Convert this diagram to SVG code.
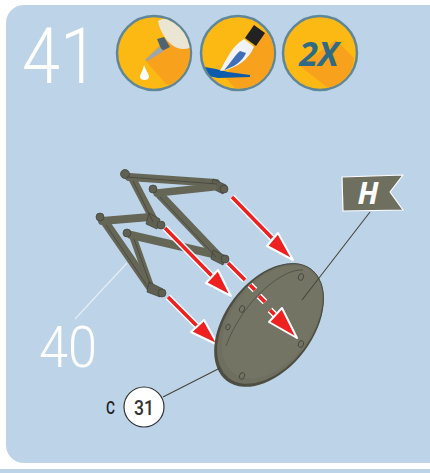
<svg xmlns="http://www.w3.org/2000/svg" width="430" height="473" viewBox="0 0 430 473">
<defs>
<style>
.ring{fill:#fdb913;stroke:#5f8797;stroke-width:2.5}
.shade{fill:#f7a11c}
.rod{stroke:#666657;stroke-linecap:round;fill:none}
.edge{stroke:#3f3f36;stroke-width:.7;fill:none}
.cap{fill:#5f5f52;stroke:#3f3f36;stroke-width:.7}
.big{fill:#fff;font-family:Roboto,"Open Sans",sans-serif;font-weight:300}
.hole{fill:none;stroke:#45453b;stroke-width:.9}
.shaft{stroke:#fff;stroke-width:6.5;fill:none;stroke-linecap:butt}
.shaftr{stroke:#ee2020;stroke-width:3.6;fill:none;stroke-linecap:butt}
.head{fill:#ee2020;stroke:#fff;stroke-width:2;stroke-linejoin:round}
.lbl{font-family:Roboto,"Open Sans",sans-serif;font-weight:500;text-anchor:middle}
</style>
<clipPath id="c1"><circle cx="154" cy="53" r="36"/></clipPath>
<clipPath id="c2"><circle cx="238" cy="53" r="36"/></clipPath>
<clipPath id="c3"><circle cx="320" cy="53" r="36"/></clipPath>
</defs>
<rect width="430" height="473" fill="#fff"/>
<rect x="0" y="469" width="430" height="4" fill="#bdd4e8"/>
<rect x="6" y="5" width="440" height="458" rx="18" fill="#bdd4e8"/>
<g id="step-number"><text class="big" x="22" y="83" font-size="78" textLength="76" lengthAdjust="spacingAndGlyphs">41</text></g>
<g id="icon-glue">
<circle class="ring" cx="154" cy="53" r="37"/>
<g clip-path="url(#c1)">
<path class="shade" d="M145 60L165 40L195 50L195 90L166 84Z"/>
<path d="M158 21C166 15 184 18 192 34L192 47C186 50 178 50 172 45C165 39 160 31 158 21Z" fill="#ebe6d4"/>
</g>
<path d="M157 39L164 37L170 47L162 51Z" fill="#4f6470"/>
<path d="M159 47L164 51L147 61L145 60Z" fill="#9aa7ad"/>
<path d="M144 65C146 71 149 74 149 77C149 81 140 81 140 77C140 74 143 71 144 65Z" fill="#fff"/>
</g>
<g id="icon-brush">
<circle class="ring" cx="238" cy="53" r="37"/>
<g clip-path="url(#c2)">
<path class="shade" d="M262 31L280 40L280 90L235 88L224 76L250 50Z"/>
<path d="M200 66L216 69L228 72L250 75L250 77L218 78L204 75Z" fill="#0d5bab"/>
</g>
<path d="M254 25L265 33L256 46L245 38Z" fill="#222"/>
<path d="M244 39L254 47C248 60 238 68 220 71C226 60 232 46 244 39Z" fill="#f0f4f8"/>
<path d="M240 51L246 53C242 62 234 67 224 70C230 64 234 56 240 51Z" fill="#3f6fb8"/>
</g>
<g id="icon-repeat">
<circle class="ring" cx="320" cy="53" r="37"/>
<g clip-path="url(#c3)"><path class="shade" d="M300 66L336 40L354 58L350 80L328 88Z"/></g>
<text x="319" y="66" font-size="34" font-weight="700" font-style="italic" text-anchor="middle" fill="#2f6b84" font-family="'Open Sans',sans-serif">2X</text>
</g>
<g id="part-40">
<path d="M127 263L75 319" stroke="#e6eef5" stroke-width="1.2" fill="none"/>
<path class="rod" stroke-width="8" d="M129 177L216 183"/>
<path class="rod" stroke-width="8" d="M132 178L155 222"/>
<circle class="cap" cx="125" cy="174" r="4.5"/>
<path class="cap" d="M213 179L226 185L223 194L211 188Z"/>
<circle class="cap" cx="224" cy="189" r="4"/>
<path class="rod" stroke-width="7.500" d="M157 193L213 187"/>
<path class="rod" stroke-width="8.500" d="M160 195L218 256"/>
<circle class="cap" cx="153" cy="189" r="4"/>
<path class="rod" stroke-width="8" d="M102 221L150 217"/>
<path class="cap" d="M149 213L160 219L157 229L146 224Z"/>
<circle class="cap" cx="161" cy="225" r="4"/>
<path class="rod" stroke-width="8" d="M131 235L213 254"/>
<path class="cap" d="M213 250L226 256L223 265L211 259Z"/>
<circle class="cap" cx="225" cy="259" r="4"/>
<path class="rod" stroke-width="8.500" d="M105 222L150 287"/>
<path class="rod" stroke-width="7" d="M133 237L150 285"/>
<circle class="cap" cx="100" cy="217" r="4"/>
<circle class="cap" cx="127" cy="233" r="4"/>
<path class="cap" d="M149 282L163 289L160 297L147 292Z"/>
<circle class="cap" cx="162" cy="293" r="4"/>
<path class="edge" d="M127 177L217 184M133 181L153 222M160 197L216 257M106 225L148 287M134 239L150 284"/>
<text class="big" x="39" y="367" font-size="57" textLength="58" lengthAdjust="spacingAndGlyphs">40</text>
</g>
<g id="connectors">
<path class="shaft" d="M232 197L272 238"/><path class="shaftr" d="M232 197L272 238"/>
<path class="head" d="M293 260L267 246L278 233Z"/>
<path class="shaft" d="M165 228L212 276"/><path class="shaftr" d="M165 228L212 276"/>
<path class="head" d="M231 296L206 283L218 270Z"/>
<path class="shaft" d="M168 297L197 326"/><path class="shaftr" d="M168 297L197 326"/>
<path class="head" d="M218 345L191 332L204 320Z"/>
</g>
<g id="part-disc">
<ellipse cx="269" cy="325" rx="70" ry="44" transform="rotate(-53 269 325)" fill="#4e4e43"/>
<ellipse cx="270" cy="324" rx="68.5" ry="42.5" transform="rotate(-53 270 324)" fill="#6f6f60" stroke="#45453b" stroke-width=".7"/>
<ellipse cx="272" cy="322" rx="64" ry="40" transform="rotate(-53 272 322)" fill="#747465"/>
<path d="M303 270C283 268 243 300 226 346" fill="none" stroke="#45453b" stroke-width=".7"/>
<ellipse class="hole" cx="301" cy="277" rx="2.5" ry="3.5" transform="rotate(20 301 277)"/>
<ellipse class="hole" cx="242" cy="309" rx="2.5" ry="3.5" transform="rotate(20 242 309)"/>
<ellipse class="hole" cx="228" cy="327" rx="2" ry="3" transform="rotate(20 228 327)"/>
<ellipse class="hole" cx="301" cy="344" rx="2.5" ry="3.5" transform="rotate(20 301 344)"/>
<ellipse class="hole" cx="242" cy="376" rx="2.5" ry="3.5" transform="rotate(20 242 376)"/>
</g>
<g id="connectors-front">
<path class="shaft" d="M228 263L245 280M250 285L255 290M259 296L265 302M270 310L276 316"/>
<path class="shaftr" d="M228 263L245 280M250 285L255 290M259 296L265 302M270 310L276 316"/>
<path class="head" d="M297 338L269 322L282 308Z"/>
<path d="M370 212L302 300" stroke="#45453b" stroke-width="1.1" fill="none"/>
<path d="M163 397L220 368" stroke="#45453b" stroke-width="1.1" fill="none"/>
</g>
<g id="flag-h">
<path d="M342 177L403 175L390 192L403 210L343 211Z" fill="#6f6f60" stroke="#fff" stroke-width="1.2" stroke-linejoin="round"/>
<text x="368" y="204" font-size="30" font-weight="700" font-style="italic" text-anchor="middle" fill="#fff" font-family="'Open Sans',sans-serif">H</text>
</g>
<g id="label-31">
<text class="lbl" x="110.500" y="414" font-size="19" fill="#222" textLength="9" lengthAdjust="spacingAndGlyphs">C</text>
<circle cx="144" cy="407" r="20" fill="#fff" stroke="#333" stroke-width="1.2"/>
<text class="lbl" x="144" y="414.500" font-size="20.500" fill="#333" textLength="20" lengthAdjust="spacingAndGlyphs">31</text>
</g>
</svg>
